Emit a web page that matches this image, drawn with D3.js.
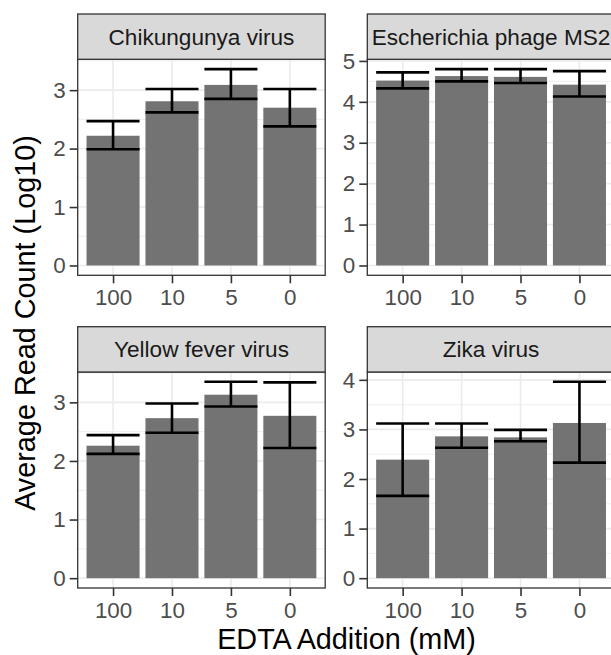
<!DOCTYPE html>
<html>
<head>
<meta charset="utf-8">
<title>EDTA addition read counts</title>
<script src="https://cdnjs.cloudflare.com/ajax/libs/d3/7.8.5/d3.min.js"></script>
<style>
  html, body { margin: 0; padding: 0; background: #fff; overflow: hidden; }
  text { font-family: "Liberation Sans", Arial, sans-serif; }
</style>
</head>
<body>
<div id="chart"></div>
<script>
// values
var doses = ["100", "10", "5", "0"];
var viruses = ["Chikungunya virus", "Escherichia phage MS2", "Yellow fever virus", "Zika virus"];

var chikMean = [2.22, 2.81, 3.09, 2.70];
var chikLow  = [1.99, 2.62, 2.85, 2.38];
var chikHigh = [2.47, 3.02, 3.36, 3.02];

var ms2Mean = [4.52, 4.63, 4.61, 4.42];
var ms2Low  = [4.33, 4.50, 4.46, 4.13];
var ms2High = [4.72, 4.80, 4.80, 4.75];

var yfvMean = [2.26, 2.73, 3.13, 2.77];
var yfvLow  = [2.12, 2.48, 2.93, 2.22];
var yfvHigh = [2.44, 2.98, 3.35, 3.34];

var zikaMean = [2.39, 2.86, 2.84, 3.13];
var zikaLow  = [1.66, 2.63, 2.76, 2.33];
var zikaHigh = [3.12, 3.12, 2.99, 3.96];

var panels = [
  {name: viruses[0], mean: chikMean, low: chikLow, high: chikHigh, col: 0, row: 0},
  {name: viruses[1], mean: ms2Mean, low: ms2Low, high: ms2High, col: 1, row: 0},
  {name: viruses[2], mean: yfvMean, low: yfvLow, high: yfvHigh, col: 0, row: 1},
  {name: viruses[3], mean: zikaMean, low: zikaLow, high: zikaHigh, col: 1, row: 1}
];

var W = 611, H = 655;
var colX = [77.7, 367.3], panelW = 247.5;
var rowY = [14, 326.7], stripH = 45.3, panelH = 216;

var svg = d3.select("#chart").append("svg")
  .attr("width", W).attr("height", H);

panels.forEach(function(p) {
  var x0 = colX[p.col], y0 = rowY[p.row] + stripH;
  var g = svg.append("g").attr("transform", "translate(" + x0 + "," + y0 + ")");

  // ggplot style discrete scale: 0.6 units padding each side, bar width 0.9
  var x = d3.scaleLinear().domain([0.4, doses.length + 0.6]).range([0, panelW]);
  var unit = x(2) - x(1);
  var top = d3.max(p.high);
  var y = d3.scaleLinear().domain([-0.05 * top, top * 1.05]).range([panelH, 0]);

  var ymax = y.domain()[1];
  var majors = d3.range(0, Math.floor(ymax) + 1);
  var minors = d3.range(0.5, ymax, 1);

  g.append("rect").attr("width", panelW).attr("height", panelH).attr("fill", "#fff");

  g.selectAll(".minor").data(minors).enter().append("line")
    .attr("x1", 0).attr("x2", panelW)
    .attr("y1", function(d) { return y(d); }).attr("y2", function(d) { return y(d); })
    .attr("stroke", "#EBEBEB").attr("stroke-width", 0.8);
  g.selectAll(".major").data(majors).enter().append("line")
    .attr("x1", 0).attr("x2", panelW)
    .attr("y1", function(d) { return y(d); }).attr("y2", function(d) { return y(d); })
    .attr("stroke", "#EBEBEB").attr("stroke-width", 1.6);
  g.selectAll(".vgrid").data(doses).enter().append("line")
    .attr("x1", function(d, i) { return x(i + 1); }).attr("x2", function(d, i) { return x(i + 1); })
    .attr("y1", 0).attr("y2", panelH)
    .attr("stroke", "#EBEBEB").attr("stroke-width", 1.6);

  // bars
  g.selectAll(".bar").data(p.mean).enter().append("rect")
    .attr("x", function(d, i) { return x(i + 1 - 0.45); })
    .attr("width", 0.9 * unit)
    .attr("y", function(d) { return y(d); })
    .attr("height", function(d) { return y(0) - y(d); })
    .attr("fill", "#737373");

  // error bars
  var eb = g.selectAll(".eb").data(p.mean).enter().append("g")
    .attr("stroke", "#000").attr("stroke-width", 2.6).attr("fill", "none");
  eb.append("line")
    .attr("x1", function(d, i) { return x(i + 1); }).attr("x2", function(d, i) { return x(i + 1); })
    .attr("y1", function(d, i) { return y(p.low[i]); }).attr("y2", function(d, i) { return y(p.high[i]); });
  eb.append("line")
    .attr("x1", function(d, i) { return x(i + 1 - 0.45); }).attr("x2", function(d, i) { return x(i + 1 + 0.45); })
    .attr("y1", function(d, i) { return y(p.low[i]); }).attr("y2", function(d, i) { return y(p.low[i]); });
  eb.append("line")
    .attr("x1", function(d, i) { return x(i + 1 - 0.45); }).attr("x2", function(d, i) { return x(i + 1 + 0.45); })
    .attr("y1", function(d, i) { return y(p.high[i]); }).attr("y2", function(d, i) { return y(p.high[i]); });

  // panel border
  g.append("rect").attr("width", panelW).attr("height", panelH)
    .attr("fill", "none").attr("stroke", "#333333").attr("stroke-width", 1.3);

  // axes
  var ya = g.append("g").call(d3.axisLeft(y).tickValues(majors).tickFormat(d3.format("d"))
    .tickSize(8).tickPadding(4));
  var xa = g.append("g").attr("transform", "translate(0," + panelH + ")")
    .call(d3.axisBottom(x).tickValues([1, 2, 3, 4]).tickFormat(function(d) { return doses[d - 1]; })
      .tickSize(8).tickPadding(6));
  [ya, xa].forEach(function(a) {
    a.select(".domain").remove();
    a.selectAll(".tick line").attr("stroke", "#333333").attr("stroke-width", 1.6);
    a.selectAll(".tick text").attr("fill", "#4D4D4D").style("font-size", "22.4px")
      .style("font-family", "'Liberation Sans', Arial, sans-serif");
  });

  // strip
  var s = svg.append("g").attr("transform", "translate(" + x0 + "," + rowY[p.row] + ")");
  s.append("rect").attr("width", panelW).attr("height", stripH)
    .attr("fill", "#D9D9D9").attr("stroke", "#333333").attr("stroke-width", 1.3);
  s.append("text").attr("x", panelW / 2).attr("y", stripH / 2 + 8)
    .attr("text-anchor", "middle").attr("fill", "#1A1A1A")
    .style("font-size", "22.6px").text(p.name);
});

svg.append("text")
  .attr("x", 346.5).attr("y", 649)
  .attr("text-anchor", "middle").attr("fill", "#000")
  .style("font-size", "28.8px").text("EDTA Addition (mM)");

svg.append("text")
  .attr("transform", "translate(35,323) rotate(-90)")
  .attr("text-anchor", "middle").attr("fill", "#000")
  .style("font-size", "28.8px").text("Average Read Count (Log10)");
</script>
</body>
</html>
